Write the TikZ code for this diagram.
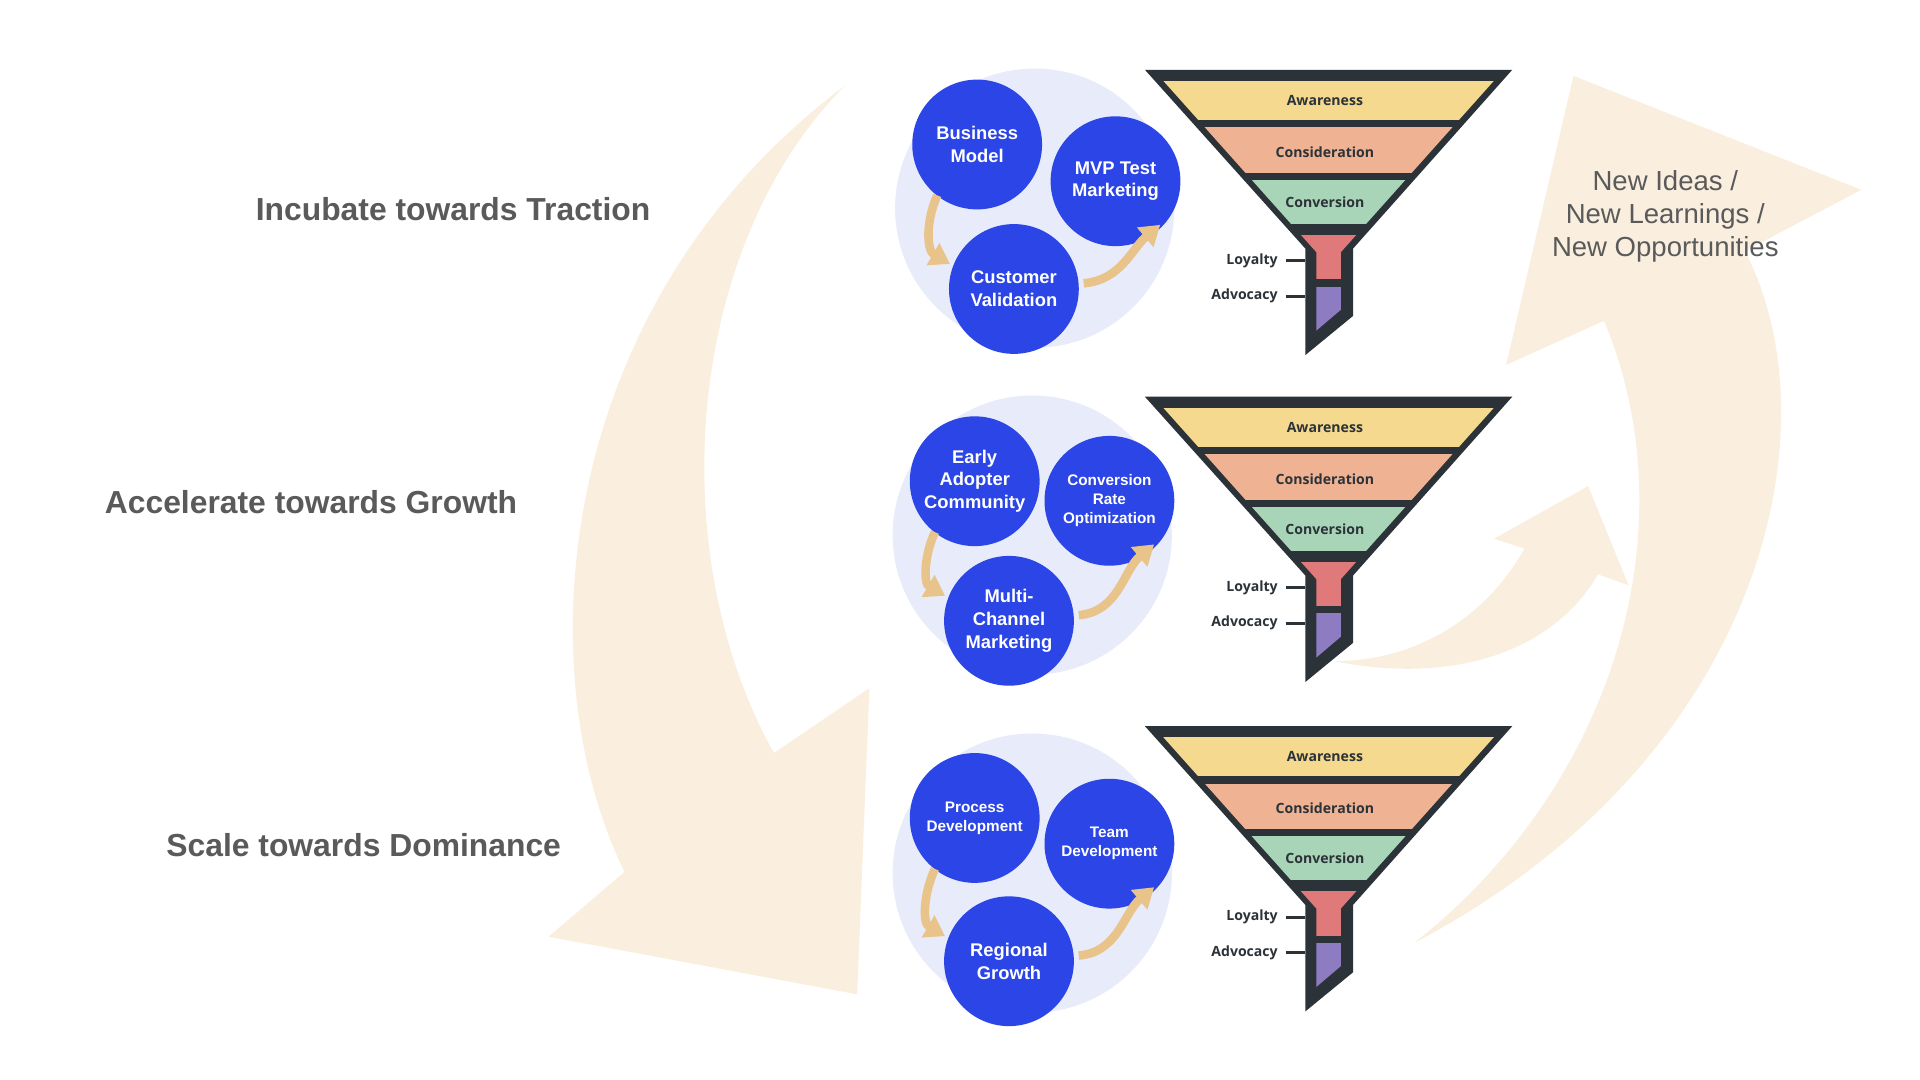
\documentclass[tikz,border=0pt]{standalone}
\usepackage{fontspec}
\setmainfont{Liberation Sans}
\newfontfamily\fnl{Open Sans}
\usetikzlibrary{arrows.meta}
\definecolor{bgarr}{HTML}{FAEFDF}
\definecolor{cblue}{HTML}{2B45E6}
\definecolor{clight}{HTML}{E8EBFA}
\definecolor{carr}{HTML}{E8C48A}
\definecolor{fdark}{HTML}{2B3238}
\definecolor{fyel}{HTML}{F5D98E}
\definecolor{forg}{HTML}{EFB394}
\definecolor{fgrn}{HTML}{A8D5B8}
\definecolor{fred}{HTML}{E07A7A}
\definecolor{fpur}{HTML}{8E7CC3}
\definecolor{tgray}{HTML}{5A5A5A}
\tikzset{
  title/.style={font=\fontsize{26}{30}\selectfont\bfseries, text=tgray},
  bc/.style={circle, fill=cblue, minimum size=106, inner sep=0, text=white, align=center, font=\fontsize{15}{18.5}\selectfont\bfseries},
  bcs/.style={bc, font=\fontsize{12.5}{15.5}\selectfont\bfseries},
  lc/.style={circle, fill=clight, minimum size=228, inner sep=0},
  ft/.style={font=\fnl\fontsize{11.5}{13}\selectfont\bfseries, text=fdark},
  sarr/.style={carr, line width=7, -{Triangle[width=20,length=16]}},
}
\newcommand\myfunnel[2]{%
\begin{scope}[shift={(0,#1)}]
 \fill[fdark] (935,57) -- (1235,57) -- (1105,203) -- (1105,258) -- (1066,290) -- (1066,203) -- cycle;
 \begin{scope}
 \clip (950,66) -- (1220,66) -- (1095,206) -- (1095,253) -- (1075,270) -- (1075,206) -- cycle;
 \fill[fyel] (900,66) rectangle (1250,98);
 \fill[forg] (900,104) rectangle (1250,141);
 \fill[fgrn] (900,147) rectangle (1250,183);
 \fill[fred] (900,192) rectangle (1250,228);
 \fill[fpur] (900,234) rectangle (1250,275);
 \end{scope}
 \node[ft] (aw#2) at (1082,82) {Awareness};
 \node[ft] (co#2) at (1082,124) {Consideration};
 \node[ft] (cv#2) at (1082,165) {Conversion};
 \node[ft, anchor=east] (lo#2) at (1047,213) {Loyalty};
 \node[ft, anchor=east] (ad#2) at (1047,242) {Advocacy};
 \draw[fdark, line width=2.5] (lo#2.east) ++(3,0) -- ++(16,0);
 \draw[fdark, line width=2.5] (ad#2.east) ++(3,0) -- ++(16,0);
\end{scope}}
\begin{document}
\begin{tikzpicture}[x=1pt,y=-1pt]
\useasboundingbox[fill=white] (0,0) rectangle (1568,882);
% background arrows
\fill[bgarr] (690,70) .. controls (450,250) and (430,550) .. (510,712) -- (448,765) -- (700,812) -- (710,562) -- (632,615) .. controls (540,450) and (560,200) .. (690,70) -- cycle;
\fill[bgarr] (1155,770) .. controls (1440,620) and (1500,350) .. (1425,205) -- (1520,155) -- (1285,62) -- (1230,298) -- (1310,262) .. controls (1380,430) and (1320,640) .. (1155,770) -- cycle;
\fill[bgarr] (1090,540) .. controls (1190,560) and (1270,530) .. (1305,469) -- (1330,478) -- (1297,397) -- (1220,440) -- (1245,448) .. controls (1210,510) and (1150,540) .. (1090,540) -- cycle;
% titles
\node[title] (t1) at (370,171) {Incubate towards Traction};
\node[title] (t2) at (254,410) {Accelerate towards Growth};
\node[title] (t3) at (297,690) {Scale towards Dominance};
\node[font=\fontsize{22.5}{27}\selectfont, text=tgray, align=center] (ni) at (1360,177) {New Ideas /\\New Learnings /\\New Opportunities};
% row 1
\node[lc] (l1) at (845,170) {};
\node[bc] (a1) at (798,118) {Business\\Model};
\node[bc] (b1) at (911,148) {MVP Test\\Marketing};
\node[bc] (c1) at (828,236) {Customer\\Validation};
% row 2
\node[lc] (l2) at (843,437) {};
\node[bc] (a2) at (796,393) {Early\\Adopter\\Community};
\node[bcs] (b2) at (906,409) {Conversion\\Rate\\Optimization};
\node[bc] (c2) at (824,507) {Multi-\\Channel\\Marketing};
% row 3
\node[lc] (l3) at (843,713) {};
\node[bcs] (a3) at (796,668) {Process\\Development};
\node[bcs] (b3) at (906,689) {Team\\Development};
\node[bc] (c3) at (824,785) {Regional\\Growth};
% small arrows
\foreach \i in {1,2,3}{
 \draw[sarr] ([xshift=-2,yshift=2]a\i.-125) to[out=-115,in=150] ([xshift=-4,yshift=-2]c\i.155);
 \draw[sarr] ([xshift=4]c\i.5) to[out=5,in=-140] ([xshift=6,yshift=8]b\i.-55);
}
\myfunnel{0}{1}
\myfunnel{267}{2}
\myfunnel{536}{3}
\end{tikzpicture}
\end{document}
